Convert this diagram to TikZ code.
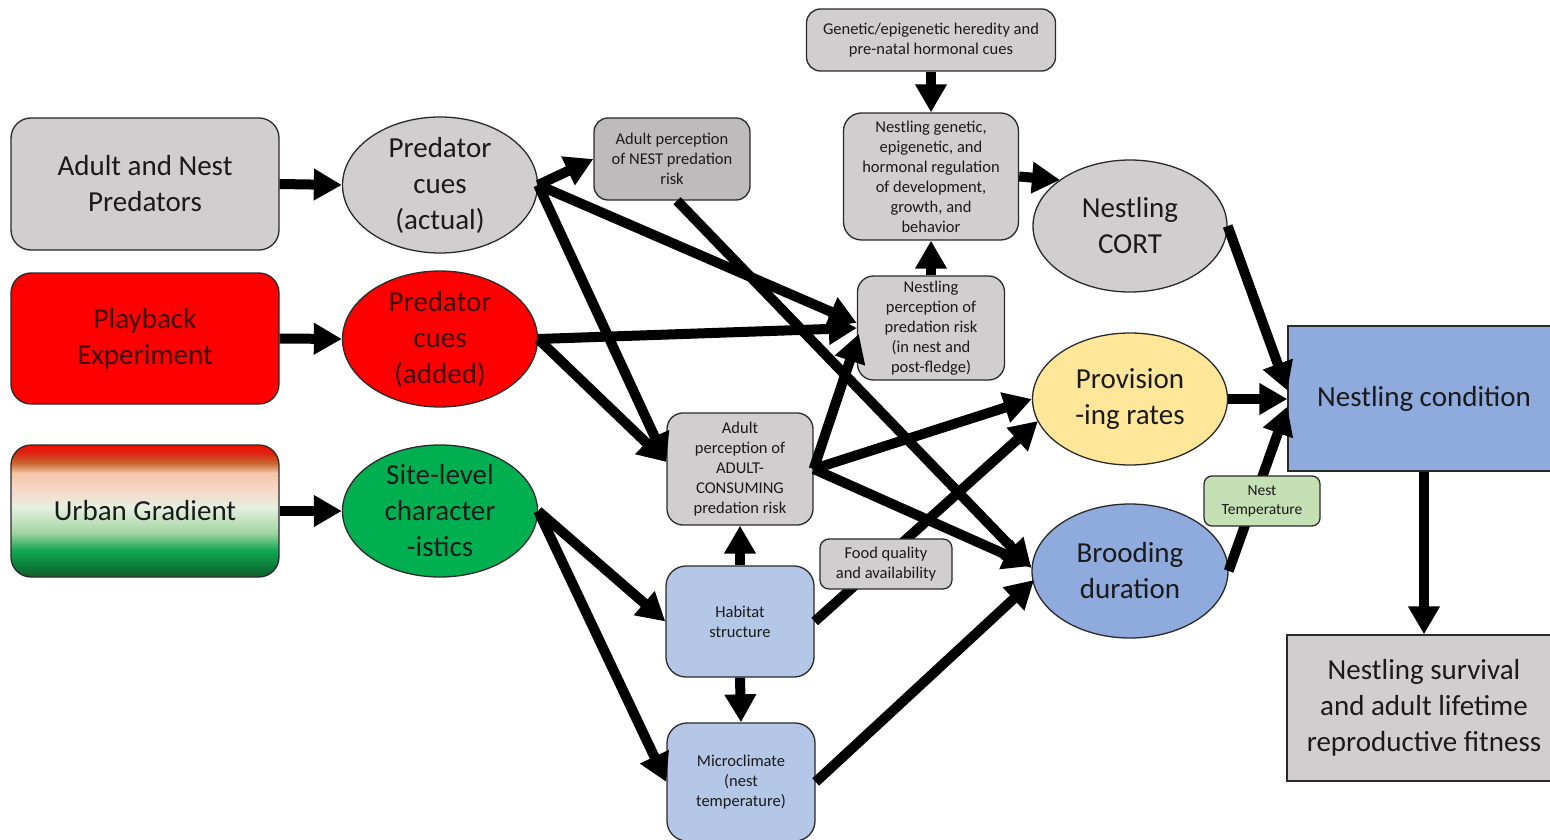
\documentclass[tikz,border=0pt]{standalone}
\usepackage{fontspec}
\setmainfont{Carlito}
\usetikzlibrary{arrows.meta,shapes.geometric,calc}
\definecolor{gry}{HTML}{D0CECE}
\definecolor{gryd}{HTML}{BDBBBB}
\definecolor{bordc}{HTML}{2A2A2A}
\definecolor{redf}{HTML}{FF0000}
\definecolor{redtxt}{HTML}{3D0000}
\definecolor{grnf}{HTML}{00B050}
\definecolor{yelf}{HTML}{FFE699}
\definecolor{bluef}{HTML}{8FAADC}
\definecolor{lbluef}{HTML}{B4C7E7}
\definecolor{lgrnf}{HTML}{C5E0B4}
\definecolor{txt}{HTML}{1A1A1A}
\definecolor{ug1}{HTML}{145C2C}
\definecolor{ug2}{HTML}{0A803C}
\definecolor{ug3}{HTML}{12A852}
\definecolor{ug4}{HTML}{A0D4A0}
\definecolor{ug5}{HTML}{E6F0E0}
\definecolor{ug6}{HTML}{F6D8C8}
\definecolor{ug7}{HTML}{F5C4A8}
\definecolor{ug8}{HTML}{C8652E}
\definecolor{ug9}{HTML}{E02010}
\definecolor{ug10}{HTML}{F01000}
\pgfdeclareverticalshading{urbanshade}{100bp}{color(0bp)=(ug1); color(25bp)=(ug1); color(29.5bp)=(ug2); color(35.2bp)=(ug3); color(41.7bp)=(ug4); color(51.5bp)=(ug5); color(58bp)=(ug6); color(64.4bp)=(ug7); color(68.2bp)=(ug8); color(72.3bp)=(ug9); color(75bp)=(ug10); color(100bp)=(ug10)}
\tikzset{
  box/.style={rectangle, draw=bordc, line width=1.3pt, rounded corners=16pt, align=center, inner sep=0pt, text=txt},
  sqbox/.style={rectangle, draw=bordc, line width=1.3pt, align=center, inner sep=0pt, text=txt},
  oval/.style={ellipse, draw=bordc, line width=1.3pt, align=center, inner sep=0pt, text=txt},
  bigtxt/.style={font=\fontsize{29}{36}\selectfont},
  smalltxt/.style={font=\fontsize{16.5}{20}\selectfont},
  conn/.style={line width=10pt, -{Triangle[length=28pt,width=30pt]}},
}
\begin{document}
\begin{tikzpicture}[x=1pt,y=-1pt]
\useasboundingbox (0,0) rectangle (1550,840);
% left column
\node[box, bigtxt, fill=gry, minimum width=268pt, minimum height=132pt, rounded corners=20pt] (A) at (145,184) {Adult and Nest\\Predators};
\node[box, bigtxt, fill=redf, text=redtxt, minimum width=268pt, minimum height=131pt, rounded corners=20pt] (B) at (145,338.5) {Playback\\Experiment};
\node[box, bigtxt, shading=urbanshade, minimum width=268pt, minimum height=132pt, rounded corners=20pt] (C) at (145,511) {Urban Gradient};
% ellipses
\node[oval, bigtxt, fill=gry, minimum width=195pt, minimum height=131pt] (E1) at (440,185) {Predator\\cues\\(actual)};
\node[oval, bigtxt, fill=redf, text=redtxt, minimum width=195pt, minimum height=132pt] (E2) at (440,339) {Predator\\cues\\(added)};
\node[oval, bigtxt, fill=grnf, minimum width=195pt, minimum height=132pt] (E3) at (440,511) {Site-level\\character\\-istics};
% middle
\node[box, smalltxt, fill=gryd, minimum width=156pt, minimum height=82pt, rounded corners=14pt] (N1) at (672,159) {Adult perception\\of NEST predation\\risk};
\node[box, smalltxt, fill=gry, minimum width=249pt, minimum height=62pt, rounded corners=14pt] (G) at (931,40) {Genetic/epigenetic heredity and\\pre-natal hormonal cues};
\node[box, smalltxt, fill=gry, minimum width=175pt, minimum height=127pt, rounded corners=18pt] (NG) at (931,176.5) {Nestling genetic,\\epigenetic, and\\hormonal regulation\\of development,\\growth, and\\behavior};
\node[box, smalltxt, fill=gry, minimum width=147pt, minimum height=104pt, rounded corners=16pt] (NP) at (931,328) {Nestling\\perception of\\predation risk\\(in nest and\\post-fledge)};
\node[box, smalltxt, fill=gry, minimum width=146pt, minimum height=112pt, rounded corners=16pt] (AP) at (740,469) {Adult\\perception of\\ADULT-\\CONSUMING\\predation risk};
\node[box, smalltxt, fill=lbluef, minimum width=148pt, minimum height=111pt, rounded corners=20pt] (HS) at (740,621.5) {Habitat\\structure};
\node[box, smalltxt, fill=lbluef, minimum width=148pt, minimum height=118pt, rounded corners=20pt] (MC) at (741,782) {Microclimate\\(nest\\temperature)};
% right
\node[oval, bigtxt, fill=gry, minimum width=194pt, minimum height=132pt] (CORT) at (1130,226) {Nestling\\CORT};
\node[oval, bigtxt, fill=yelf, minimum width=195pt, minimum height=132pt] (PR) at (1130,399) {Provision\\-ing rates};
\node[oval, bigtxt, fill=bluef, minimum width=196pt, minimum height=134pt] (BD) at (1130,571) {Brooding\\duration};
\node[sqbox, bigtxt, fill=bluef, minimum width=272pt, minimum height=145pt] (NC) at (1424,398.5) {Nestling condition};
\node[sqbox, bigtxt, fill=gry, minimum width=274pt, minimum height=146pt] (NS) at (1424,708) {Nestling survival\\and adult lifetime\\reproductive fitness};
% connectors
\draw[conn] (A.east) -- (E1.west);
\draw[conn] (B.east) -- (E2.west);
\draw[conn] (C.east) -- (E3.west);
\draw[conn] (E1.east) -- (N1.west);
\draw[conn] (E1.east) -- ($(NP.west)+(0,-5)$);
\draw[conn] (E1.east) -- ($(AP.west)+(0,-7)$);
\draw[conn] (E2.east) -- (NP.west);
\draw[conn] (E2.east) -- ($(AP.west)+(0,-7)$);
\draw[conn] (E3.east) -- (HS.west);
\draw[conn] (E3.east) -- (MC.west);
\draw[conn] ($(N1.south)+(5,0)$) -- ($(BD.west)+(0,-3)$);
\draw[conn] (AP.east) -- ($(NP.west)+(2,6)$);
\draw[conn] (AP.east) -- (PR.west);
\draw[conn] (AP.east) -- ($(BD.west)+(0,-5)$);
\draw[conn] (HS.north) -- (AP.south);
\draw[conn] (HS.south) -- (MC.north);
\draw[conn] (HS.east) -- ($(PR.center)+(-92,22)$);
\draw[conn] (MC.east) -- ($(BD.center)+(-96,9)$);
\draw[conn] (G.south) -- (NG.north);
\draw[conn] (NP.north) -- (NG.south);
\draw[conn] (NG.east) -- ($(CORT.center)+(-70,-46)$);
\draw[conn] (CORT.east) -- ($(NC.west)+(0,-8)$);
\draw[conn] (PR.east) -- (PR.east -| NC.west);
\draw[conn] (BD.east) -- ($(NC.west)+(0,8)$);
\draw[conn] (NC.south) -- (NS.north);
% labels on connectors
\node[box, smalltxt, fill=gry, minimum width=132pt, minimum height=50pt, rounded corners=9pt] (FQ) at (886,564) {Food quality\\and availability};
\node[box, font=\fontsize{15.5}{19}\selectfont, fill=lgrnf, minimum width=116pt, minimum height=50pt, rounded corners=8pt] (NT) at (1262,501) {Nest\\Temperature};
\end{tikzpicture}
\end{document}
